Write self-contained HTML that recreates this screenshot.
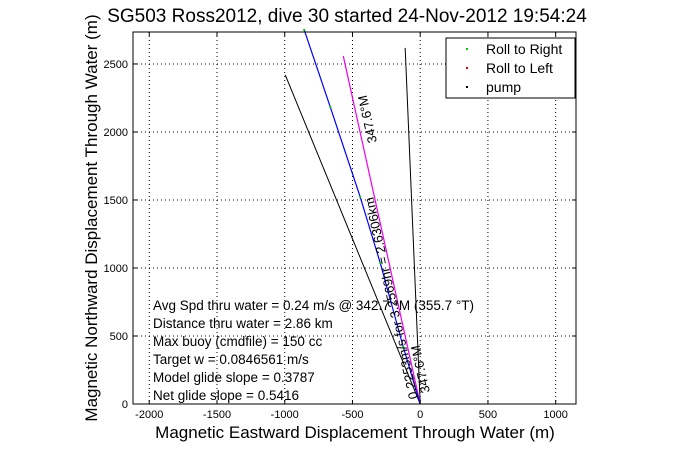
<!DOCTYPE html>
<html><head><meta charset="utf-8"><style>
body{margin:0;background:#fff;}
svg text{font-family:"Liberation Sans",sans-serif;}
</style></head><body>
<svg id="c" width="681" height="454" xmlns="http://www.w3.org/2000/svg">
<rect width="681" height="454" fill="#fff"/>
<g id="grid"></g>
<g id="series"></g>
<rect x="133" y="32" width="443" height="372" fill="none" stroke="#000"/>
<g id="ticks"></g>
<text x="347" y="22" font-size="19" text-anchor="middle">SG503 Ross2012, dive 30 started 24-Nov-2012 19:54:24</text>
<text x="355" y="438" font-size="17" text-anchor="middle">Magnetic Eastward Displacement Through Water (m)</text>
<text transform="translate(97,218) rotate(-90)" font-size="17" text-anchor="middle">Magnetic Northward Displacement Through Water (m)</text>
<g font-size="13.5">
<text x="153" y="310">Avg Spd thru water =  0.24 m/s @ 342.7   °M (355.7 °T)</text>
<text x="153" y="328">Distance thru water =  2.86 km</text>
<text x="153" y="346">Max buoy (cmdfile) = 150 cc</text>
<text x="153" y="364">Target w = 0.0846561 m/s</text>
<text x="153" y="382">Model glide slope = 0.3787</text>
<text x="153" y="400">Net glide slope = 0.5416</text>
</g>
<text transform="translate(377,142) rotate(-102.5)" font-size="13">347.6°M</text>
<text transform="translate(418,398) rotate(-102.5)" font-size="13">0.2253m/s for 3.2569hr = 2.6306km</text>
<text transform="translate(430,392) rotate(-102.5)" font-size="13">347.6°M</text>
<g>
<rect x="446" y="38" width="129" height="60" fill="#fff" stroke="#000"/>
<rect x="466" y="48" width="2" height="2" fill="#0c0"/>
<text x="486" y="54" font-size="14">Roll to Right</text>
<rect x="466" y="67" width="2" height="2" fill="#e00"/>
<text x="486" y="73" font-size="14">Roll to Left</text>
<rect x="466" y="86" width="2" height="2" fill="#000"/>
<text x="486" y="92" font-size="14">pump</text>
</g>
</svg>
<script>
const xTicks=[-2000,-1500,-1000,-500,0,500,1000];
const yTicks=[0,500,1000,1500,2000,2500];
const pathX=[0,-125,-295,-443,-664,-856];
const pathY=[0,419,1037,1522,2184,2750];
const currentEnd=[-568,2559];
const glideEnd=[-996,2419];
const pumpEnd=[-111,2618];
const X0=-2120,X1=1150,Y0=0,Y1=2735;
const sx=v=>133+(v-X0)/(X1-X0)*443;
const sy=v=>404-(v-Y0)/(Y1-Y0)*372;
const NS="http://www.w3.org/2000/svg";
const g=document.getElementById('grid'),t=document.getElementById('ticks'),s=document.getElementById('series');
function mk(tag,attrs,parent){const e=document.createElementNS(NS,tag);for(const k in attrs)e.setAttribute(k,attrs[k]);parent.appendChild(e);return e;}
xTicks.forEach(v=>{
 const l=mk('line',{x1:sx(v),x2:sx(v),y1:32,y2:404,stroke:'#000','stroke-dasharray':'1,3'},g);
 
 
 const tx=mk('text',{x:sx(v),y:418,'font-size':'11','text-anchor':'middle'},t);
 tx.textContent=v;
 
 
 mk('line',{x1:sx(v),x2:sx(v),y1:404,y2:400,stroke:'#000'},t);
 mk('line',{x1:sx(v),x2:sx(v),y1:32,y2:36,stroke:'#000'},t);
});
yTicks.forEach(v=>{
 const l=mk('line',{x1:133,x2:576,y1:sy(v),y2:sy(v),stroke:'#000','stroke-dasharray':'1,3'},g);
 
 
 const tx=mk('text',{x:128,y:sy(v)+4,'font-size':'11','text-anchor':'end'},t);
 tx.textContent=v;
 
 
 mk('line',{x1:133,x2:137,y1:sy(v),y2:sy(v),stroke:'#000'},t);
 mk('line',{x1:572,x2:576,y1:sy(v),y2:sy(v),stroke:'#000'},t);
});
const gl=mk('line',{x1:sx(0),y1:sy(0),x2:sx(glideEnd[0]),y2:sy(glideEnd[1]),stroke:'#000'},s);


const pl=mk('line',{x1:sx(0),y1:sy(0),x2:sx(pumpEnd[0]),y2:sy(pumpEnd[1]),stroke:'#000'},s);


const cl=mk('line',{x1:sx(0),y1:sy(0),x2:sx(currentEnd[0]),y2:sy(currentEnd[1]),stroke:'#e0e','stroke-width':'1.2'},s);


const pts=pathX.map((x,i)=>sx(x)+','+sy(pathY[i])).join(' ');
const bl=mk('polyline',{points:pts,fill:'none',stroke:'#00f','stroke-width':'1.2'},s);


for(let i=1;i<pathX.length;i++){
 const d=mk('rect',{x:sx(pathX[i])-1,y:sy(pathY[i])-1,width:2,height:2,fill:'#0c0'},s);
 
 
}
</script>
</body></html>
